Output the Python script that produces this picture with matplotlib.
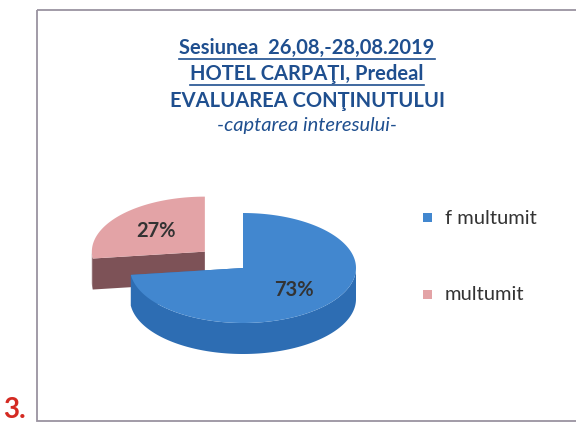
import matplotlib
matplotlib.use('Agg')
import matplotlib.pyplot as plt
from matplotlib.patches import Polygon, Rectangle
import numpy as np

# Data
labels = ['f multumit', 'multumit']
values = [73, 27]
top_colors = ['#4287cf', '#e3a3a6']
side_colors = ['#2d6db3', '#7d5257']
title_lines = ['Sesiunea  26,08,-28,08.2019', 'HOTEL CARPAŢI, Predeal',
               'EVALUAREA CONŢINUTULUI', '-captarea interesului-']

plt.rcParams['font.family'] = ['Lato', 'DejaVu Sans']

fig = plt.figure(figsize=(5.76, 4.23), dpi=100)
ax = fig.add_axes([0, 0, 1, 1])
ax.set_xlim(0, 576)
ax.set_ylim(423, 0)
ax.axis('off')

# frame of the chart
ax.add_patch(Rectangle((37, 10), 560, 411, fill=False, ec='#9a93a0', lw=1.3))
ax.text(3, 423, '3.', color='#d42a22', fontsize=20, fontweight='bold', va='bottom')

# title
title_y = [48, 74, 101, 125]
styles = [dict(fontweight='bold'), dict(fontweight='bold'), dict(fontweight='bold'), dict(style='italic')]
title_texts = []
for txt, y, st in zip(title_lines, title_y, styles):
    t = ax.text(307, y, txt, ha='center', va='center', fontsize=14.5, color='#1f4f8f', **st)
    title_texts.append(t)

fig.canvas.draw()
r = fig.canvas.get_renderer()
inv = ax.transData.inverted()
for t in title_texts[:2]:
    bb = t.get_window_extent(r)
    (x0, y0), (x1, y1) = inv.transform([(bb.x0, bb.y0), (bb.x1, bb.y1)])
    ax.plot([x0, x1], [y0 + 1.5, y0 + 1.5], color='#1f4f8f', lw=1.2)

# pseudo-3D pie
cx, cy, rx, ry, depth = 243, 268, 113, 55, 31
start = 90.0
angles = []
a = start
for v in values:
    span = 360.0 * v / sum(values)
    angles.append((a - span, a))
    a -= span
explode = [0.0, 0.45]
label_r = [0.6, 0.58]


def pt(th, ox, oy, dz=0):
    t = np.radians(th)
    return cx + ox + rx * np.cos(t), cy + oy - ry * np.sin(t) + dz


for i in [1, 0]:  # exploded back slice first
    a0, a1 = angles[i]
    mid = np.radians((a0 + a1) / 2)
    ox = explode[i] * rx * np.cos(mid)
    oy = -explode[i] * ry * np.sin(mid)
    c = (cx + ox, cy + oy)
    ths = np.linspace(a0, a1, 300)
    # outer wall, front half only
    front = [th for th in ths if np.sin(np.radians(th)) < 0]
    if front:
        top = [pt(th, ox, oy) for th in front]
        bot = [pt(th, ox, oy, depth) for th in front[::-1]]
        ax.add_patch(Polygon(top + bot, closed=True, fc=side_colors[i], ec='none'))
    # radial faces
    for edge in (a0, a1):
        p = pt(edge, ox, oy)
        face = [c, p, (p[0], p[1] + depth), (c[0], c[1] + depth)]
        ax.add_patch(Polygon(face, closed=True, fc=side_colors[i], ec='none'))
    # top surface
    ax.add_patch(Polygon([c] + [pt(th, ox, oy) for th in ths], closed=True,
                         fc=top_colors[i], ec='none'))
    lx = c[0] + label_r[i] * rx * np.cos(mid)
    ly = c[1] - label_r[i] * ry * np.sin(mid)
    ax.text(lx, ly, f'{values[i]}%', ha='center', va='center', fontsize=14.5,
            fontweight='bold', color='#333333', zorder=5)

# legend
leg_y = [218, 295]
for lab, col, y in zip(labels, top_colors, leg_y):
    ax.add_patch(Rectangle((423, y - 4.5), 9, 9, fc=col, ec='none'))
    ax.text(445, y, lab, ha='left', va='center', fontsize=14.5, color='#333333')

fig.savefig('out.png', dpi=100)
